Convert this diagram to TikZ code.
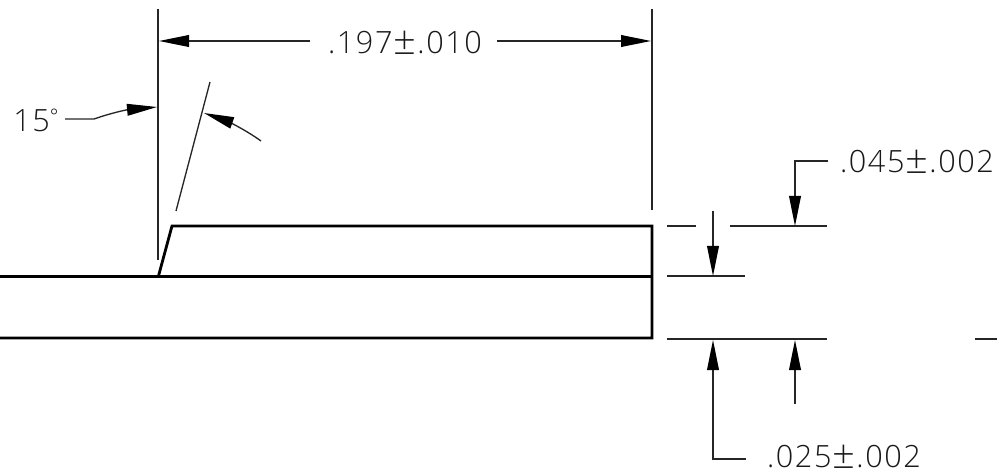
\documentclass[tikz,border=0pt]{standalone}
\usepackage{fontspec}
\setmainfont[LetterSpace=5]{Open Sans Light}
\usetikzlibrary{arrows.meta}
\newcommand{\bigplusmin}{\kern0.8pt\smash{\raisebox{-0.6pt}{\fontsize{30pt}{30pt}\selectfont ±}}\kern0.8pt}
\tikzset{
  x=0.75pt,y=-0.75pt,
  thin line/.style={line width=1pt,color=black!85},
  part line/.style={line width=2.1pt,color=black,line join=miter,line cap=butt},
  dim arrow/.style={thin line,-{Triangle[length=22.5pt,width=8.8pt,fill=black,color=black]}},
  dim text/.style={font=\fontsize{23pt}{24pt}\selectfont,text=black!90,inner sep=0pt,anchor=center}
}
\begin{document}
\begin{tikzpicture}
\useasboundingbox (0,0) rectangle (997,474);
% part outline
\coordinate (pL1) at (0,276.4); \coordinate (pR1) at (652,276.4);
\coordinate (pS) at (158.5,276); \coordinate (pT) at (172,226); \coordinate (pTR) at (652,226);
\coordinate (pBR) at (652,338); \coordinate (pB) at (0,338);
\draw[part line] (pL1) -- (pR1);
\draw[part line] (pS) -- (pT) -- (pTR) -- (pBR) -- (pB);
% extension lines
\coordinate (eLa) at (158,9); \coordinate (eLb) at (158,260);
\coordinate (eRa) at (652,9); \coordinate (eRb) at (652,210);
\coordinate (eAa) at (210,82); \coordinate (eAb) at (176,211);
\draw[thin line] (eLa) -- (eLb);
\draw[thin line] (eRa) -- (eRb);
\draw[thin line] (eAa) -- (eAb);
% width dimension
\node[dim text] (w) at (405,43) {.197\bigplusmin.010};
\coordinate (wL) at (159,41); \coordinate (wR) at (651,41);
\coordinate (wLs) at (310,41); \coordinate (wRs) at (497,41);
\draw[dim arrow] (wLs) -- (wL);
\draw[dim arrow] (wRs) -- (wR);
% angle
\node[dim text] (ang) at (36,120) {15\raisebox{6pt}{\fontsize{15pt}{16pt}\selectfont °}};
\coordinate (a1) at (65,119); \coordinate (a2) at (94,119); \coordinate (a3) at (157,107);
\draw[dim arrow] (a1) -- (a2) .. controls (108,114) and (125,110) .. (a3);
\coordinate (b1) at (261,141); \coordinate (b2) at (204,113);
\draw[dim arrow] (b1) .. controls (243,128) and (224,120) .. (b2);
% right hand horizontals
\coordinate (h1a) at (667,226); \coordinate (h1b) at (696,226);
\coordinate (h2a) at (730,226); \coordinate (h2b) at (827,226);
\coordinate (h3a) at (667,276); \coordinate (h3b) at (745,276);
\coordinate (h4a) at (667,339); \coordinate (h4b) at (827,339);
\coordinate (h5a) at (975,339); \coordinate (h5b) at (997,339);
\draw[thin line] (h1a) -- (h1b);
\draw[thin line] (h2a) -- (h2b);
\draw[thin line] (h3a) -- (h3b);
\draw[thin line] (h4a) -- (h4b);
\draw[thin line] (h5a) -- (h5b);
% arrows and leaders
\node[dim text] (t45) at (917,162) {.045\bigplusmin.002};
\node[dim text] (t25) at (844,457) {.025\bigplusmin.002};
\coordinate (c1) at (713,211); \coordinate (c2) at (713,276);
\draw[dim arrow] (c1) -- (c2);
\coordinate (d0) at (828,161); \coordinate (d1) at (795,161); \coordinate (d2) at (795,226);
\draw[dim arrow] (d0) -- (d1) -- (d2);
\coordinate (f0) at (746,459); \coordinate (f1) at (713,459); \coordinate (f2) at (713,340);
\draw[dim arrow] (f0) -- (f1) -- (f2);
\coordinate (g1) at (795,404); \coordinate (g2) at (795,340);
\draw[dim arrow] (g1) -- (g2);
\end{tikzpicture}
\end{document}
